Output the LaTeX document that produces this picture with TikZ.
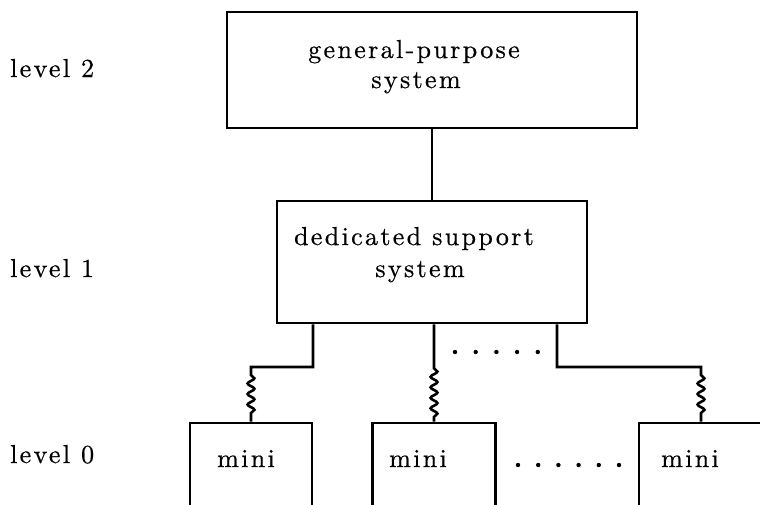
\documentclass[tikz,border=0pt]{standalone}
\usepackage{fontspec}
\usepackage{tikz}
\usetikzlibrary{decorations.pathmorphing}

\newfontfamily\typefont{lmroman10-regular.otf}[LetterSpace=9, FakeBold=0.6]

\begin{document}
\begin{tikzpicture}[x=1pt, y=-1pt,
    sysbox/.style={draw, line width=2.6pt, inner sep=0pt},
    minibox/.style={draw, line width=2.6pt, inner sep=0pt, minimum height=120pt},
    wire/.style={line width=2.6pt},
    coil/.style={decoration={snake, segment length=10.5pt, amplitude=3.4pt}},
    lbl/.style={font=\typefont\fontsize{26}{31}\selectfont, inner sep=0pt}]

\useasboundingbox (0,0) rectangle (760,504);
\clip (0,0) rectangle (760,504);

% level names on the left
\node[lbl, anchor=base west] (lev2) at (10,77)  {level 2};
\node[lbl, anchor=base west] (lev1) at (10,277) {level 1};
\node[lbl, anchor=base west] (lev0) at (10,463) {level 0};

% upper two systems
\node[sysbox, minimum width=410pt, minimum height=116pt] (gps) at (432,70)  {};
\node[sysbox, minimum width=310pt, minimum height=122pt] (dss) at (432,262) {};
\node[lbl, anchor=base] (gpsa) at (414,58)  {general-purpose};
\node[lbl, anchor=base] (gpsb) at (416,88)  {system};
\node[lbl, anchor=base] (dssa) at (414,245) {dedicated support};
\node[lbl, anchor=base] (dssb) at (420,277) {system};

\draw[wire] (gps.south) -- (dss.north);

% the minis, running off the bottom edge
\node[minibox, minimum width=122pt] (m1) at (251,483) {};
\node[minibox, minimum width=123pt] (m2) at (434,483) {};
\node[minibox, minimum width=124pt] (m3) at (701,483) {};
\node[lbl, anchor=base west] (m1txt) at (217,467) {mini};
\node[lbl, anchor=base west] (m2txt) at (389,467) {mini};
\node[lbl, anchor=base west] (m3txt) at (661,467) {mini};

% links down to the minis
\coordinate (bus) at (0,367);
\draw[wire, coil] ([xshift=-119pt]dss.south) |- (m1.north |- bus) -- ++(0,8)
    decorate {-- ++(0,42)} -- (m1.north);
\draw[wire, coil] (dss.south -| m2.north) -- ++(0,44)
    decorate {-- ++(0,52)} -- (m2.north);
\draw[wire, coil] ([xshift=125pt]dss.south) |- (m3.north |- bus) -- ++(0,8)
    decorate {-- ++(0,42)} -- (m3.north);

% dots for the links and minis left out
\foreach \i in {0,...,4}
  \fill ({455+20.7*\i},352) circle (2.2pt);
\foreach \i in {0,...,5}
  \fill ({518+20.2*\i},465) circle (2.2pt);

\end{tikzpicture}
\end{document}
